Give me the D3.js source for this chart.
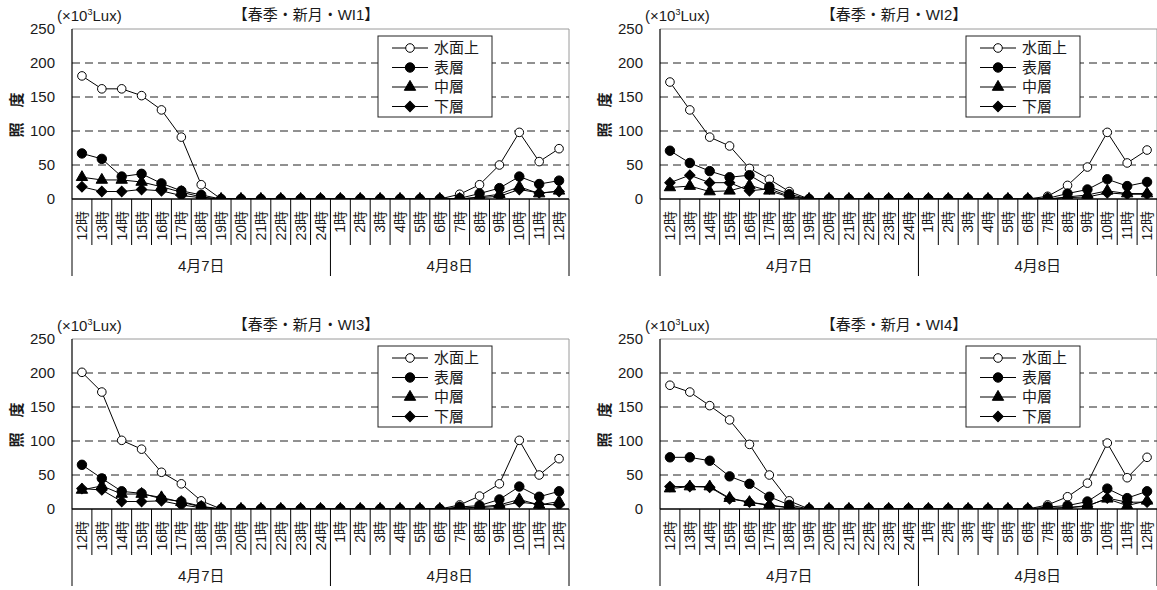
<!DOCTYPE html>
<html>
<head>
<meta charset="utf-8">
<script src="https://cdn.jsdelivr.net/npm/d3@7"></script>
<style>
body { margin: 0; background: #fff; }
text { font-family: "Liberation Sans", "Noto Sans CJK JP", sans-serif; fill: #1a1a1a; }
</style>
</head>
<body>
<svg id="chart" width="1157" height="590"></svg>
<script>
// categories
let hours7 = ['12時','13時','14時','15時','16時','17時','18時','19時','20時','21時','22時','23時','24時']
let hours8 = ['1時','2時','3時','4時','5時','6時','7時','8時','9時','10時','11時','12時']
let days = ['4月7日', '4月8日']
let seriesNames = ['水面上', '表層', '中層', '下層']
let yTicks = [0, 50, 100, 150, 200, 250]

// WI1
let wi1Above   = [181,162,162,152,131,91,21,0,0,0,0,0,0, 0,0,0,0,0,0,7,21,50,98,55,74]
let wi1Surface = [67,59,33,37,23,12,6,0,0,0,0,0,0, 0,0,0,0,0,0,1,8,16,33,22,27]
let wi1Middle  = [32,28,28,25,18,10,3,0,0,0,0,0,0, 0,0,0,0,0,0,0,3,7,18,8,12]
let wi1Bottom  = [18,11,11,14,12,5,2,0,0,0,0,0,0, 0,0,0,0,0,0,0,2,4,14,9,11]
// WI2
let wi2Above   = [172,131,91,78,45,29,11,0,0,0,0,0,0, 0,0,0,0,0,0,4,20,47,98,53,72]
let wi2Surface = [71,53,41,32,35,18,7,0,0,0,0,0,0, 0,0,0,0,0,0,1,8,14,29,19,25]
let wi2Middle  = [17,19,11,12,20,12,3,0,0,0,0,0,0, 0,0,0,0,0,0,0,3,6,12,8,8]
let wi2Bottom  = [24,35,24,24,12,15,4,0,0,0,0,0,0, 0,0,0,0,0,0,0,2,3,9,7,7]
// WI3
let wi3Above   = [201,172,101,88,54,37,12,0,0,0,0,0,0, 0,0,0,0,0,0,6,19,37,101,50,74]
let wi3Surface = [65,45,26,23,15,11,4,0,0,0,0,0,0, 0,0,0,0,0,0,3,5,14,33,18,26]
let wi3Middle  = [28,34,22,22,17,10,3,0,0,0,0,0,0, 0,0,0,0,0,0,1,3,6,14,6,11]
let wi3Bottom  = [30,28,11,11,12,6,2,0,0,0,0,0,0, 0,0,0,0,0,0,1,2,4,10,7,6]
// WI4
let wi4Above   = [182,172,152,131,95,50,12,0,0,0,0,0,0, 0,0,0,0,0,0,6,18,38,97,46,76]
let wi4Surface = [76,76,71,48,37,18,6,0,0,0,0,0,0, 0,0,0,0,0,0,3,5,11,30,16,26]
let wi4Middle  = [30,33,33,16,10,6,2,0,0,0,0,0,0, 0,0,0,0,0,0,1,2,5,15,5,12]
let wi4Bottom  = [33,33,32,15,10,5,2,0,0,0,0,0,0, 0,0,0,0,0,0,1,2,4,16,10,10]

let panels = [
  {title: '【春季・新月・WI1】', series: [wi1Above, wi1Surface, wi1Middle, wi1Bottom], dx: 0,   dy: 0},
  {title: '【春季・新月・WI2】', series: [wi2Above, wi2Surface, wi2Middle, wi2Bottom], dx: 588, dy: 0},
  {title: '【春季・新月・WI3】', series: [wi3Above, wi3Surface, wi3Middle, wi3Bottom], dx: 0,   dy: 310},
  {title: '【春季・新月・WI4】', series: [wi4Above, wi4Surface, wi4Middle, wi4Bottom], dx: 588, dy: 310}
]

let hours = hours7.concat(hours8)
let plotLeft = 72, plotRight = 569, plotTop = 29, plotBottom = 199

let x = d3.scaleBand().domain(d3.range(hours.length)).range([plotLeft, plotRight])
let y = d3.scaleLinear().domain([0, 250]).range([plotBottom, plotTop])

let svg = d3.select('#chart')

// marker shapes, one per series
let markers = [
  {path: d3.symbol().type(d3.symbolCircle).size(58)(), fill: '#fff', rot: 0},
  {path: d3.symbol().type(d3.symbolCircle).size(70)(), fill: '#000', rot: 0},
  {path: d3.symbol().type(d3.symbolTriangle).size(56)(), fill: '#000', rot: 0},
  {path: d3.symbol().type(d3.symbolSquare).size(54)(), fill: '#000', rot: 45}
]

function drawMarker(sel, m) {
  sel.append('path')
    .attr('d', m.path)
    .attr('fill', m.fill)
    .attr('stroke', '#000')
    .attr('stroke-width', 1)
    .attr('transform', d => 'translate(' + d[0] + ',' + d[1] + ') rotate(' + m.rot + ')')
}

panels.forEach((p, pi) => {
  let g = svg.append('g').attr('transform', 'translate(' + p.dx + ',' + p.dy + ')')

  let clipId = 'clip' + pi
  g.append('clipPath').attr('id', clipId)
    .append('rect').attr('x', plotLeft - 6).attr('y', plotTop).attr('width', plotRight - plotLeft + 12).attr('height', plotBottom - plotTop)

  // gray frame top/right
  g.append('path')
    .attr('d', 'M' + plotLeft + ',' + plotTop + 'H' + plotRight + 'V' + plotBottom)
    .attr('fill', 'none').attr('stroke', '#9a9a9a').attr('stroke-width', 1)

  // dashed grid
  g.selectAll('.grid').data(yTicks.filter(t => t > 0 && t < 250)).enter().append('line')
    .attr('x1', plotLeft).attr('x2', plotRight)
    .attr('y1', d => y(d)).attr('y2', d => y(d))
    .attr('stroke', '#222').attr('stroke-width', 1).attr('stroke-dasharray', '8,5')

  // y tick labels
  g.selectAll('.ylab').data(yTicks).enter().append('text')
    .attr('x', 55).attr('y', d => y(d)).attr('dy', '0.36em')
    .attr('text-anchor', 'end').style('font-size', '15px')
    .text(d => d)

  // category separators
  let bounds = d3.range(hours.length + 1)
  g.selectAll('.sep').data(bounds).enter().append('line')
    .attr('x1', i => plotLeft + i * x.step()).attr('x2', i => plotLeft + i * x.step())
    .attr('y1', plotBottom)
    .attr('y2', i => (i === 0 || i === hours7.length || i === hours.length) ? 276 : 245)
    .attr('stroke', '#000').attr('stroke-width', 1)

  // left axis line
  g.append('line').attr('x1', plotLeft).attr('x2', plotLeft).attr('y1', plotTop).attr('y2', plotBottom)
    .attr('stroke', '#000').attr('stroke-width', 1.2)

  // x tick labels
  g.selectAll('.xlab').data(hours).enter().append('text')
    .attr('transform', (d, i) => 'translate(' + (x(i) + x.bandwidth() / 2) + ',211) rotate(-90)')
    .attr('text-anchor', 'end').attr('dy', '0.36em')
    .style('font-size', '14px')
    .text(d => d)

  // day labels
  let dayCenters = [plotLeft + hours7.length * x.step() / 2, plotLeft + (hours7.length + hours8.length / 2) * x.step()]
  g.selectAll('.day').data(days).enter().append('text')
    .attr('x', (d, i) => dayCenters[i]).attr('y', 271)
    .attr('text-anchor', 'middle').style('font-size', '15px')
    .text(d => d)

  // series
  let plot = g.append('g').attr('clip-path', 'url(#' + clipId + ')')
  let line = d3.line().x((d, i) => x(i) + x.bandwidth() / 2).y(d => y(d))
  p.series.forEach((s, si) => {
    plot.append('path').datum(s).attr('d', line)
      .attr('fill', 'none').attr('stroke', '#000').attr('stroke-width', 1)
  })
  p.series.forEach((s, si) => {
    let pts = s.map((v, i) => [x(i) + x.bandwidth() / 2, y(v)])
    drawMarker(plot.selectAll('.m' + si).data(pts).enter(), markers[si])
  })

  // x axis line on top
  g.append('line').attr('x1', plotLeft).attr('x2', plotRight).attr('y1', plotBottom).attr('y2', plotBottom)
    .attr('stroke', '#000').attr('stroke-width', 1.6)

  // title & unit
  g.append('text').attr('x', 306).attr('y', 20).attr('text-anchor', 'middle')
    .style('font-size', '15px').text(p.title)
  let unit = g.append('text').attr('x', 57).attr('y', 21).style('font-size', '15px')
  unit.append('tspan').text('(×10')
  unit.append('tspan').attr('dy', -6).style('font-size', '9px').text('3')
  unit.append('tspan').attr('dy', 6).text('Lux)')

  // y title
  g.append('text').attr('transform', 'translate(17,115) rotate(-90)')
    .attr('text-anchor', 'middle').attr('dy', '0.36em')
    .style('font-size', '15px').style('font-weight', 'bold')
    .text('照　度')

  // legend
  let lg = g.append('g')
  lg.append('rect').attr('x', 378).attr('y', 36).attr('width', 114).attr('height', 81)
    .attr('fill', '#fff').attr('stroke', '#222').attr('stroke-width', 1)
  let rowsY = [48, 67.5, 87, 106.5]
  seriesNames.forEach((name, si) => {
    lg.append('line').attr('x1', 392).attr('x2', 428).attr('y1', rowsY[si]).attr('y2', rowsY[si])
      .attr('stroke', '#000').attr('stroke-width', 1)
    drawMarker(lg.selectAll('.lm' + si).data([[410, rowsY[si]]]).enter(), markers[si])
    lg.append('text').attr('x', 434).attr('y', rowsY[si]).attr('dy', '0.36em')
      .style('font-size', '15px').text(name)
  })
})
</script>
</body>
</html>
